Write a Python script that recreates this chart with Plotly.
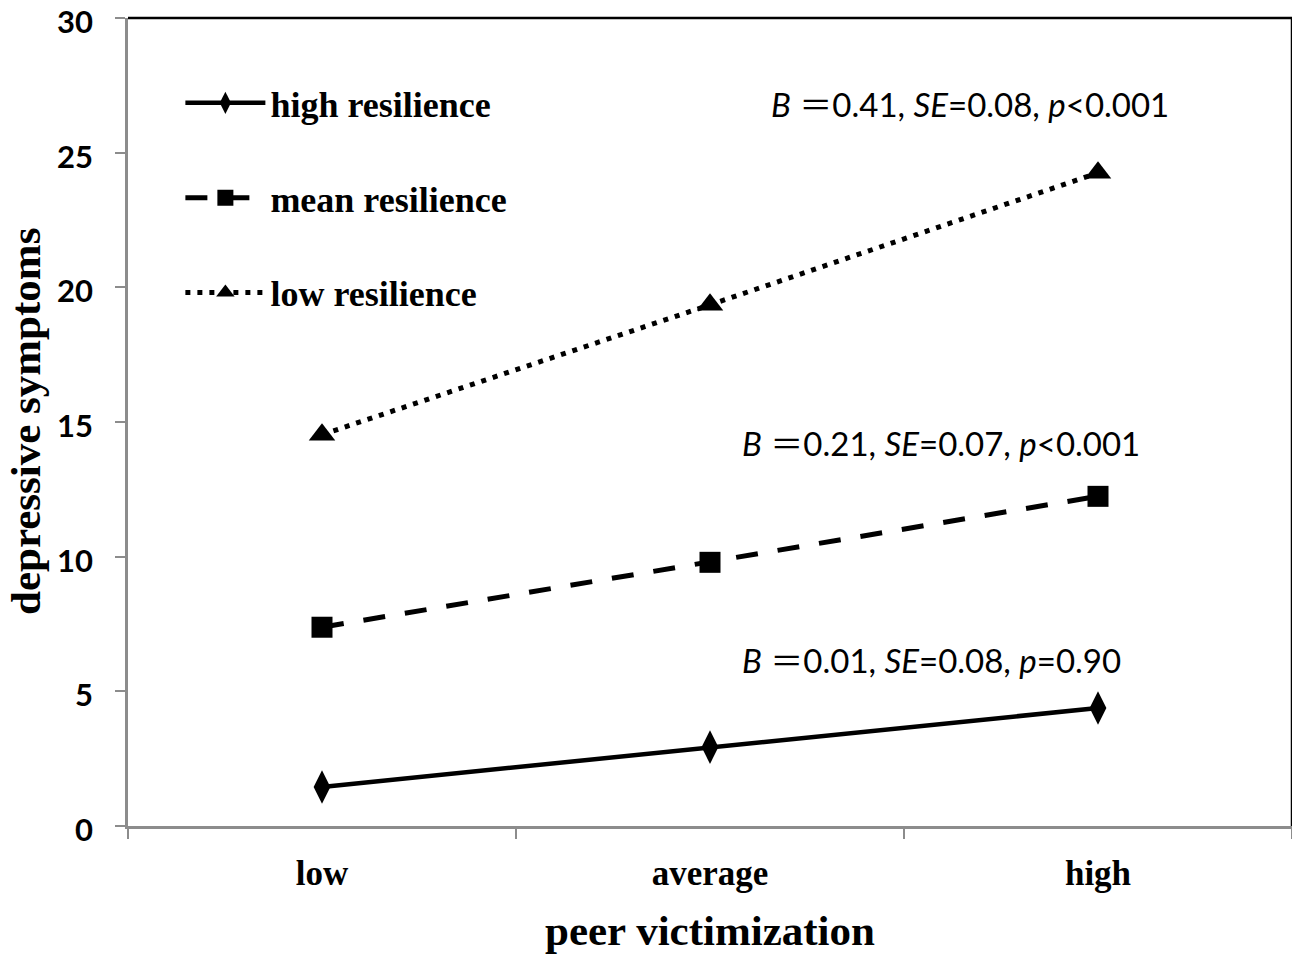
import plotly.graph_objects as go

# peer victimization levels on the x axis
categories = ["low", "average", "high"]

# depressive symptoms per resilience group
high_res = [1.45, 2.93, 4.38]
mean_res = [7.38, 9.79, 12.24]
low_res = [14.53, 19.35, 24.25]

y_ticks = [0, 5, 10, 15, 20, 25, 30]

FW_EQ = "<span style=\"font-family:'Noto Sans CJK SC'\">\uff1d</span>"
stats_text = [
    "<i>B</i> " + FW_EQ + "0.41, <i>SE</i>=0.08, <i>p</i>&lt;0.001",
    "<i>B</i> " + FW_EQ + "0.21, <i>SE</i>=0.07, <i>p</i>&lt;0.001",
    "<i>B</i> " + FW_EQ + "0.01, <i>SE</i>=0.08, <i>p</i>=0.90",
]
# where each note sits (paper x of its left edge, data y of its centre)
stats_x = [0.551, 0.526, 0.526]
stats_y = [26.85, 14.24, 6.19]

SERIF = "Liberation Serif"
SANS = "Lato"

fig = go.Figure()

fig.add_trace(go.Scatter(
    x=categories, y=high_res, name="high resilience", legendgroup="a",
    mode="lines+markers",
    line=dict(color="black", width=4.5),
    marker=dict(symbol="diamond-tall", size=24, color="black"),
))
fig.add_trace(go.Scatter(
    x=categories, y=mean_res, name="mean resilience", legendgroup="b",
    mode="lines+markers",
    line=dict(color="black", width=5, dash="22px,20px"),
    marker=dict(symbol="square", size=21, color="black"),
))
fig.add_trace(go.Scatter(
    x=categories, y=low_res, name="low resilience", legendgroup="c",
    mode="lines+markers",
    line=dict(color="black", width=5, dash="5px,7px"),
    marker=dict(symbol="triangle-up", size=23, color="black"),
))

for txt, xv, yv in zip(stats_text, stats_x, stats_y):
    fig.add_annotation(
        x=xv, xref="paper", y=yv, yref="y", xanchor="left",
        text=txt, showarrow=False,
        font=dict(family=SANS, size=33, color="black"),
    )

# y axis title as a rotated annotation so it can sit right at the left edge
fig.add_annotation(
    x=0, xref="paper", xshift=-103, xanchor="center",
    y=0.5, yref="paper", yanchor="middle",
    text="depressive symptoms", textangle=-90, showarrow=False,
    font=dict(family=SERIF, size=43, color="black", weight="bold"),
)

# black frame on top and right, as in the original Excel chart
fig.add_shape(type="line", xref="paper", yref="paper", x0=0, x1=1, y0=1, y1=1,
              line=dict(color="black", width=2.5))
fig.add_shape(type="line", xref="paper", yref="paper", x0=1, x1=1, y0=0, y1=1,
              line=dict(color="black", width=2.5))

# page body has an 8px margin, so the figure is offset by that much
fig.update_layout(
    width=1300, height=960,
    margin=dict(l=120, r=16, t=10, b=142),
    paper_bgcolor="white", plot_bgcolor="white",
    showlegend=True,
    legend=dict(
        x=0.045, y=0.932, xanchor="left", yanchor="top",
        font=dict(family=SERIF, size=36, color="black", weight="bold"),
        bgcolor="rgba(0,0,0,0)", tracegroupgap=45, itemwidth=80,
        traceorder="grouped",
    ),
    xaxis=dict(
        type="category", range=[-0.5, 2.5], automargin=False,
        showline=True, linecolor="#8c8c8c", linewidth=2.5,
        ticks="outside", tickson="boundaries", ticklen=10, tickcolor="#8c8c8c",
        tickwidth=2, showgrid=False, zeroline=False, ticklabelstandoff=14,
        tickfont=dict(family=SERIF, size=35, color="black", weight="bold"),
        title=dict(text="peer victimization", standoff=24,
                   font=dict(family=SERIF, size=43, color="black", weight="bold")),
    ),
    yaxis=dict(
        range=[0, 30], tickvals=y_ticks, automargin=False,
        showline=True, linecolor="#8c8c8c", linewidth=2.5,
        ticks="outside", ticklen=10, tickcolor="#8c8c8c", tickwidth=2,
        showgrid=False, zeroline=False, ticklabelstandoff=16,
        ticklabeloverflow="allow", ticklabelshift=4,
        tickfont=dict(family=SANS, size=31, color="black", weight="bold"),
    ),
)

fig.write_html("out.html")
